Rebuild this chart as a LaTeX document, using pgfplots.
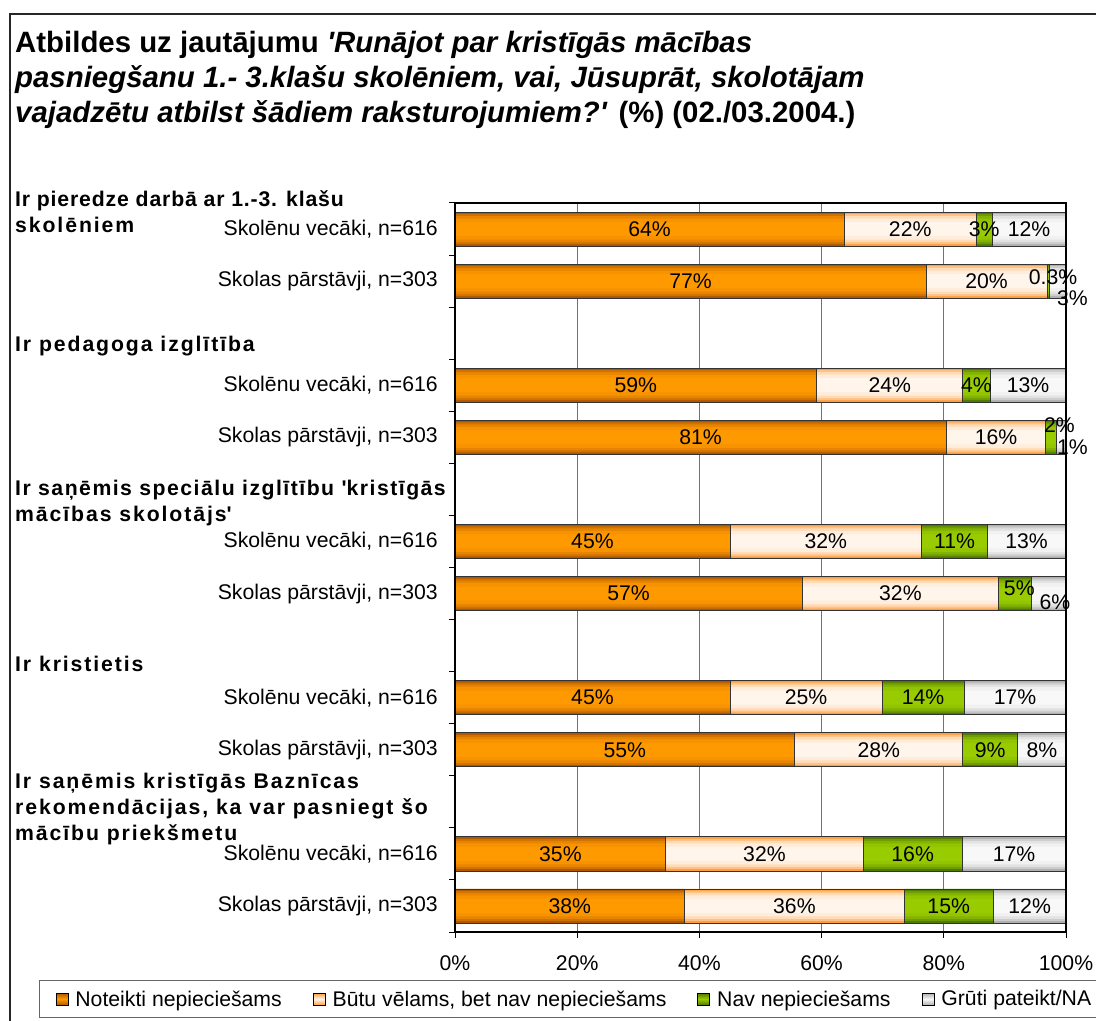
\documentclass[border=0pt]{standalone}
\usepackage{fontspec}
\setmainfont{Liberation Sans}
\newfontfamily\grp{Liberation Sans}[LetterSpace=9]
\newfontfamily\grpn{Liberation Sans}[LetterSpace=4]
\newfontfamily\grpm{Liberation Sans}[LetterSpace=7]
\usepackage{pgfplots}
\usepackage{pgfplotstable}
\pgfplotsset{compat=1.18}

\definecolor{orD}{HTML}{B05800}
\definecolor{orL}{HTML}{FF9900}
\definecolor{peD}{HTML}{FF9E40}
\definecolor{peL}{HTML}{FFF5EB}
\definecolor{grD}{HTML}{4F7A00}
\definecolor{grL}{HTML}{99CC00}
\definecolor{gyD}{HTML}{B0B0B0}
\definecolor{gyL}{HTML}{F8F8F8}

\pgfplotstableread{
row a b c d la lb lc ld dxc dyc dxd dyd
0 63.7 21.6 2.6 12.1 64 22 3 12 0 0 0 0
1 77.1 19.8 0.3 2.8 77 20 0.3 3 5 -4 15 17
3 59.2 23.9 4.5 12.4 59 24 4 13 0 0 0 0
4 80.4 16.3 1.8 1.5 81 16 2 1 8 -12 11 10
6 45.0 31.4 10.7 12.9 45 32 11 13 0 0 0 0
7 56.8 32.2 5.4 5.6 57 32 5 6 4 -5 6 9
9 45.0 24.9 13.4 16.7 45 25 14 17 0 0 0 0
10 55.6 27.5 9.0 7.9 55 28 9 8 0 0 0 0
12 34.5 32.3 16.2 17.0 35 32 16 17 0 0 0 0
13 37.6 35.9 14.6 11.9 38 36 15 12 0 0 0 0
}\data

\newcommand{\lf}{\fontsize{21.3}{25}\selectfont}
\pgfplotsset{
  sqlegend/.style={legend image code/.code={\draw[##1] (0bp,-6bp) rectangle (12bp,6bp);}},
  common/.style={at={(455bp,89bp)}, anchor=south west,
    scale only axis, width=611bp, height=729bp,
    xbar stacked, xmin=0, xmax=100, ymin=-0.5, ymax=13.5, y dir=reverse},
}
% one band of the bar gradient: width, share of the light colour
\newcommand{\band}[2]{%
\begin{axis}[common, hide axis, bar width=#1bp]
\addplot[draw=none, fill=orL!#2!orD] table[x=a, y=row] {\data};
\addplot[draw=none, fill=peL!#2!peD] table[x=b, y=row] {\data};
\addplot[draw=none, fill=grL!#2!grD] table[x=c, y=row] {\data};
\addplot[draw=none, fill=gyL!#2!gyD] table[x=d, y=row] {\data};
\end{axis}}

\begin{document}
\begin{tikzpicture}[x=1bp,y=1bp]
\useasboundingbox (0,0) rectangle (1096,1021);
\begin{scope}
\clip (0,0) rectangle (1096,1021);
\draw[line width=1.5bp, black!85] (10,-5) -- (10,1007) -- (1100,1007);

\node[anchor=base west, inner sep=0pt, font=\fontsize{29.5}{35}\selectfont\bfseries] at (15,968) {Atbildes uz jautājumu \textit{\textquotesingle Runājot par kristīgās mācības}};
\node[anchor=base west, inner sep=0pt, font=\fontsize{29.5}{35}\selectfont\bfseries\itshape] at (15,933) {pasniegšanu 1.- 3.klašu skolēniem, vai, Jūsuprāt, skolotājam};
\node[anchor=base west, inner sep=0pt, font=\fontsize{29.5}{35}\selectfont\bfseries] at (15,898) {\textit{vajadzētu atbilst šādiem raksturojumiem?\textquotesingle} (\%) (02./03.2004.)};

\begin{scope}[every node/.style={anchor=base west, inner sep=0pt, font=\lf\grp\bfseries}]
\node[font=\lf\grpn\bfseries] at (15,814) {Ir pieredze darbā ar 1.-3. klašu};
\node at (15,788) {skolēniem};
\node at (15,669) {Ir pedagoga izglītība};
\node[font=\lf\grpm\bfseries] at (15,525) {Ir saņēmis speciālu izglītību \textquotesingle kristīgās};
\node at (15,499) {mācības skolotājs\textquotesingle};
\node at (15,349) {Ir kristietis};
\node at (15,232) {Ir saņēmis kristīgās Baznīcas};
\node at (15,206) {rekomendācijas, ka var pasniegt šo};
\node at (15,180) {mācību priekšmetu};
\end{scope}

% bottom layer: grid and the darkest band
\begin{axis}[common, bar width=34bp,
  axis line style={draw=none},
  xtick={0,20,40,60,80,100}, xticklabels={}, ytick=\empty, yticklabels={},
  major tick length=0pt,
  xmajorgrids, major grid style={black!55, line width=1.2bp}]
\addplot[draw=none, fill=orD] table[x=a, y=row] {\data};
\addplot[draw=none, fill=peD] table[x=b, y=row] {\data};
\addplot[draw=none, fill=grD] table[x=c, y=row] {\data};
\addplot[draw=none, fill=gyD] table[x=d, y=row] {\data};
\end{axis}
\band{30}{40}
\band{26}{70}
\band{21}{90}
\band{14}{100}

% top layer: outlines, labels, axes, legend
\begin{axis}[common, bar width=34bp, axis on top,
  axis line style={black, line width=1.2bp},
  xtick={0,20,40,60,80,100},
  xticklabels={0\%,20\%,40\%,60\%,80\%,100\%},
  ytick={0,1,3,4,6,7,9,10,12,13},
  yticklabels={{Skolēnu vecāki, n=616},{Skolas pārstāvji, n=303},
               {Skolēnu vecāki, n=616},{Skolas pārstāvji, n=303},
               {Skolēnu vecāki, n=616},{Skolas pārstāvji, n=303},
               {Skolēnu vecāki, n=616},{Skolas pārstāvji, n=303},
               {Skolēnu vecāki, n=616},{Skolas pārstāvji, n=303}},
  minor ytick={-0.5,0.5,...,13.5},
  tick align=outside, tick pos=left,
  major tick length=6bp, minor tick length=6bp,
  major y tick style={draw=none},
  tick style={black, line width=1bp},
  every tick label/.append style={font=\lf},
  yticklabel style={inner sep=0pt, xshift=-11bp},
  xticklabel style={inner sep=0pt, yshift=-17bp},
  /pgf/number format/assume math mode=true,
  legend columns=4,
  legend style={at={(axis description cs:-0.6808,-0.0658)}, anchor=north west,
    draw=black!60, line width=1.2bp, font=\lf,
    inner xsep=16bp, inner ysep=10bp, nodes={inner sep=0pt},
    /tikz/every even column/.append style={column sep=31bp},
    /tikz/every odd column/.append style={column sep=7bp}},
  nodes near coords={\pgfmathprintnumber{\pgfplotspointmeta}\%},
  point meta=explicit,
  every node near coord/.append style={font=\lf, inner sep=0pt, anchor=center},
]
\addlegendimage{sqlegend, draw=black, line width=0.8bp, top color=orD, bottom color=orD, middle color=orL}
\addlegendimage{sqlegend, draw=black, line width=0.8bp, top color=peD, bottom color=peD, middle color=peL}
\addlegendimage{sqlegend, draw=black, line width=0.8bp, top color=grD, bottom color=grD, middle color=grL}
\addlegendimage{sqlegend, draw=black, line width=0.8bp, top color=gyD, bottom color=gyD, middle color=gyL}
\addplot[draw=black!80, line width=0.8bp, fill=none]
  table[x=a, y=row, meta=la] {\data};
\addplot[draw=black!80, line width=0.8bp, fill=none]
  table[x=b, y=row, meta=lb] {\data};
\addplot[draw=black!80, line width=0.8bp, fill=none,
  visualization depends on={\thisrow{dxc} \as \dx},
  visualization depends on={\thisrow{dyc} \as \dy},
  every node near coord/.append style={xshift={\dx*1bp}, yshift={-\dy*1bp}}]
  table[x=c, y=row, meta=lc] {\data};
\addplot[draw=black!80, line width=0.8bp, fill=none,
  visualization depends on={\thisrow{dxd} \as \dx},
  visualization depends on={\thisrow{dyd} \as \dy},
  every node near coord/.append style={xshift={\dx*1bp}, yshift={-\dy*1bp}}]
  table[x=d, y=row, meta=ld] {\data};
\legend{Noteikti nepieciešams, {Būtu vēlams, bet nav nepieciešams}, Nav nepieciešams, Grūti pateikt/NA}
\end{axis}
\end{scope}
\end{tikzpicture}
\end{document}
